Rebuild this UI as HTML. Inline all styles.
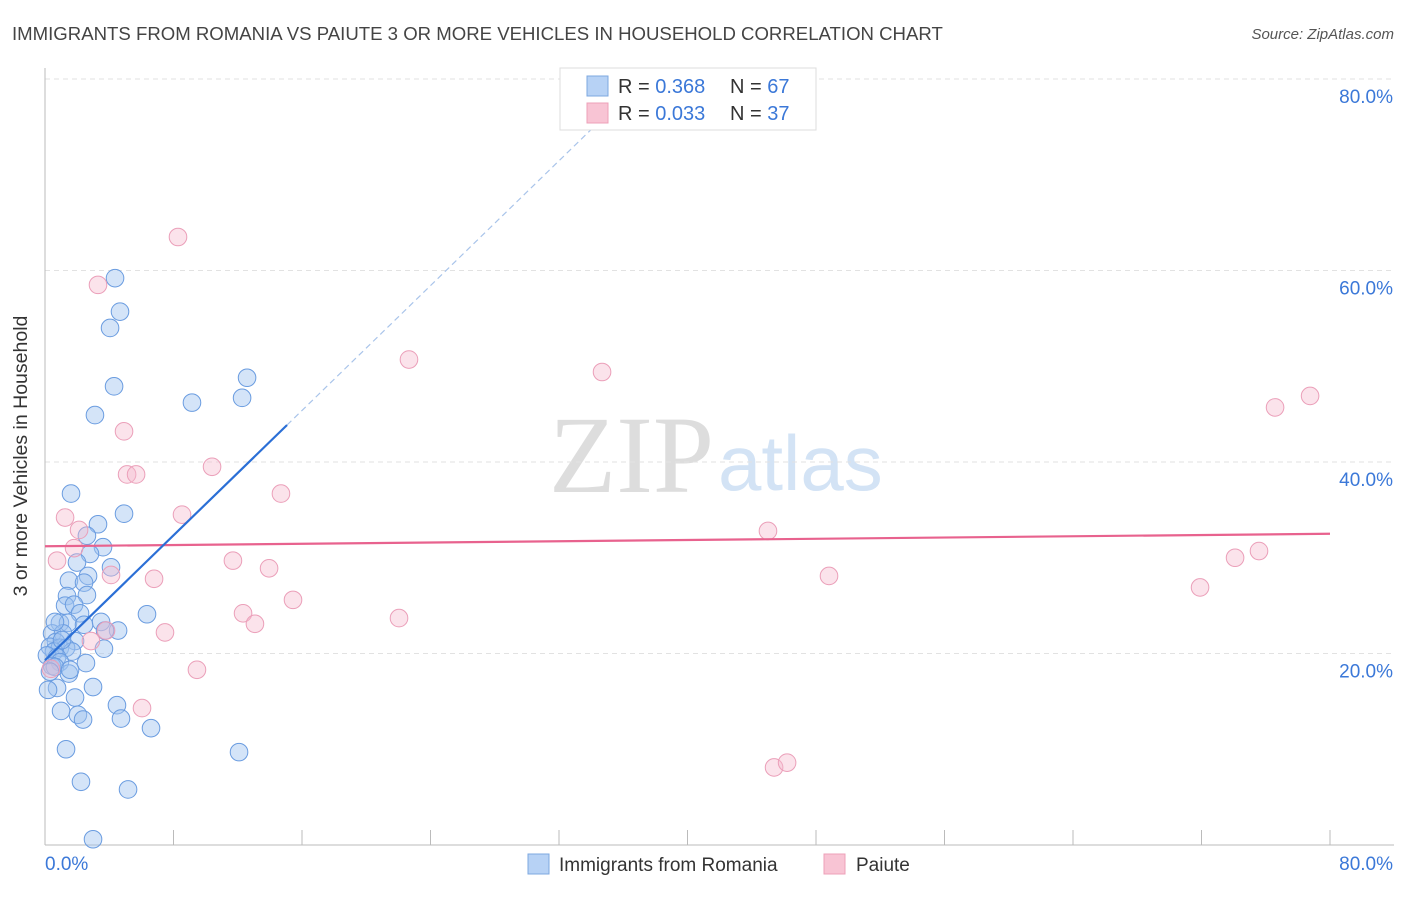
<!DOCTYPE html>
<html><head><meta charset="utf-8"><style>
body{margin:0;background:#fff;font-family:"Liberation Sans",sans-serif;}
svg text{font-family:"Liberation Sans",sans-serif;}
</style></head><body>
<svg id="chart" width="1406" height="892" xmlns="http://www.w3.org/2000/svg">
<text x="12" y="40" font-size="18.6" fill="#444">IMMIGRANTS FROM ROMANIA VS PAIUTE 3 OR MORE VEHICLES IN HOUSEHOLD CORRELATION CHART</text>
<text x="1394" y="39" font-size="15" fill="#555" font-style="italic" text-anchor="end">Source: ZipAtlas.com</text>
<text x="714" y="492" font-size="110" fill="#ddd" text-anchor="end" style="font-family:'Liberation Serif',serif">ZIP</text>
<text x="718" y="490" font-size="78" fill="#d3e3f5">atlas</text>
<g id="grid"></g>
<g id="axes"></g>
<g id="marks"></g>
<text x="27" y="456" font-size="19.5" fill="#333" text-anchor="middle" transform="rotate(-90 27 456)">3 or more Vehicles in Household</text>
<g>
<rect x="560" y="68" width="256" height="62" fill="#fff" stroke="#ddd"/>
<rect x="587" y="76" width="21" height="20" fill="#b7d2f5" stroke="#7ea8e0"/>
<rect x="587" y="103" width="21" height="20" fill="#f8c4d4" stroke="#eea0b8"/>
<text x="618" y="93" font-size="20" fill="#333">R = <tspan fill="#3b78d8">0.368</tspan></text>
<text x="730" y="93" font-size="20" fill="#333">N = <tspan fill="#3b78d8">67</tspan></text>
<text x="618" y="120" font-size="20" fill="#333">R = <tspan fill="#3b78d8">0.033</tspan></text>
<text x="730" y="120" font-size="20" fill="#333">N = <tspan fill="#3b78d8">37</tspan></text>
</g>
<g>
<rect x="528" y="854" width="21" height="20" fill="#b7d2f5" stroke="#7ea8e0"/>
<text x="559" y="871" font-size="19" fill="#333">Immigrants from Romania</text>
<rect x="824" y="854" width="21" height="20" fill="#f8c4d4" stroke="#eea0b8"/>
<text x="856" y="871" font-size="19" fill="#333">Paiute</text>
</g>
</svg>
<script>
const blueX=[4.36,4.67,4.05,4.30,3.11,9.15,12.27,12.58,1.62,4.92,3.30,2.61,3.61,2.80,1.99,4.11,2.68,1.49,2.43,1.37,2.61,1.25,1.81,2.18,0.93,1.43,2.43,3.49,4.55,6.35,3.74,0.44,1.12,0.68,1.87,0.31,0.93,1.31,0.56,1.68,0.12,0.75,3.67,0.93,2.55,0.44,0.62,1.49,0.31,2.99,0.75,0.19,1.87,1.00,4.48,2.05,2.37,4.73,6.60,1.31,12.08,2.24,5.17,2.99,1.56,1.06,0.62];
const blueY=[59.2,55.7,54.0,47.9,44.9,46.2,46.7,48.8,36.7,34.6,33.5,32.3,31.1,30.4,29.5,29.0,28.1,27.6,27.4,26.0,26.1,25.0,25.1,24.2,23.2,23.2,23.0,23.3,22.4,24.1,22.4,22.1,22.1,21.2,21.3,20.7,20.6,20.6,20.2,20.2,19.8,19.6,20.5,19.1,19.0,18.7,18.6,17.9,18.1,16.5,16.4,16.2,15.4,14.0,14.6,13.6,13.1,13.2,12.2,10.0,9.7,6.6,5.8,0.6,18.3,21.4,23.3];
const pinkX=[8.28,3.30,22.66,34.68,4.92,10.40,5.11,5.67,14.69,1.25,8.53,2.12,45.01,1.81,0.75,11.70,75.58,74.09,76.58,78.76,4.11,6.79,13.95,48.81,71.91,15.44,12.33,13.07,22.04,3.80,7.47,2.86,9.46,0.37,6.04,45.39,46.20];
const pinkY=[63.5,58.5,50.7,49.4,43.2,39.5,38.7,38.7,36.7,34.2,34.5,32.9,32.8,31.0,29.7,29.7,30.7,30.0,45.7,46.9,28.2,27.8,28.9,28.1,26.9,25.6,24.2,23.1,23.7,22.4,22.2,21.3,18.3,18.4,14.3,8.1,8.6];
const yTicks=[20,40,60,80];
const yTickLabels=["20.0%","40.0%","60.0%","80.0%"];
const blueTrend=[19.3,1.63];
const blueSolidEnd=15.07;
const pinkTrend=[31.2,0.0163];
const NS="http://www.w3.org/2000/svg";
const X=v=>45+v/80*1285, Y=v=>845-v/80*766;
function mk(t,a,p){const e=document.createElementNS(NS,t);for(const k in a)e.setAttribute(k,a[k]);p.appendChild(e);return e;}
const grid=document.getElementById('grid'),axes=document.getElementById('axes'),marks=document.getElementById('marks');
yTicks.forEach((t,i)=>{
 const l=mk('line',{x1:45,x2:1394,y1:Y(t),y2:Y(t),stroke:'#e2e2e2','stroke-dasharray':'5,4'},grid);
 
 
 const tx=mk('text',{x:1393,y:Y(t)+24,'font-size':19,fill:'#3b78d8','text-anchor':'end'},grid);
 tx.textContent=yTickLabels[i];
 
 
});
const ax=mk('line',{x1:45,x2:45,y1:68,y2:845,stroke:'#bbb'},axes);


const bx=mk('line',{x1:45,x2:1394,y1:845,y2:845,stroke:'#bbb'},axes);


for(let i=1;i<=10;i++){const t=mk('line',{x1:X(i*8),x2:X(i*8),y1:830,y2:845,stroke:'#bbb'},axes);
 
 }
const x0=mk('text',{x:45,y:870,'font-size':19,fill:'#3b78d8'},axes);x0.textContent='0.0%';


const x1=mk('text',{x:1393,y:870,'font-size':19,fill:'#3b78d8','text-anchor':'end'},axes);x1.textContent='80.0%';


blueX.forEach((v,i)=>{const c=mk('circle',{cx:X(v),cy:Y(blueY[i]),r:8.8,fill:'rgba(160,195,240,0.45)',stroke:'#6a9ce0','stroke-width':1},marks);
 
 });
pinkX.forEach((v,i)=>{const c=mk('circle',{cx:X(v),cy:Y(pinkY[i]),r:8.8,fill:'rgba(246,185,205,0.4)',stroke:'#eb9fb9','stroke-width':1},marks);
 
 });
const pl=mk('line',{x1:X(0),y1:Y(pinkTrend[0]),x2:X(80),y2:Y(pinkTrend[0]+80*pinkTrend[1]),stroke:'#e8628e','stroke-width':2.2},marks);


const bl=mk('line',{x1:X(0),y1:Y(blueTrend[0]),x2:X(blueSolidEnd),y2:Y(blueTrend[0]+blueSolidEnd*blueTrend[1]),stroke:'#2b6fd6','stroke-width':2.2},marks);


const xe=(80-blueTrend[0])/blueTrend[1];
const bd=mk('line',{x1:X(blueSolidEnd),y1:Y(blueTrend[0]+blueSolidEnd*blueTrend[1]),x2:X(xe),y2:Y(80),stroke:'#a9c4ea','stroke-width':1.2,'stroke-dasharray':'6,4'},marks);


</script>
</body></html>
